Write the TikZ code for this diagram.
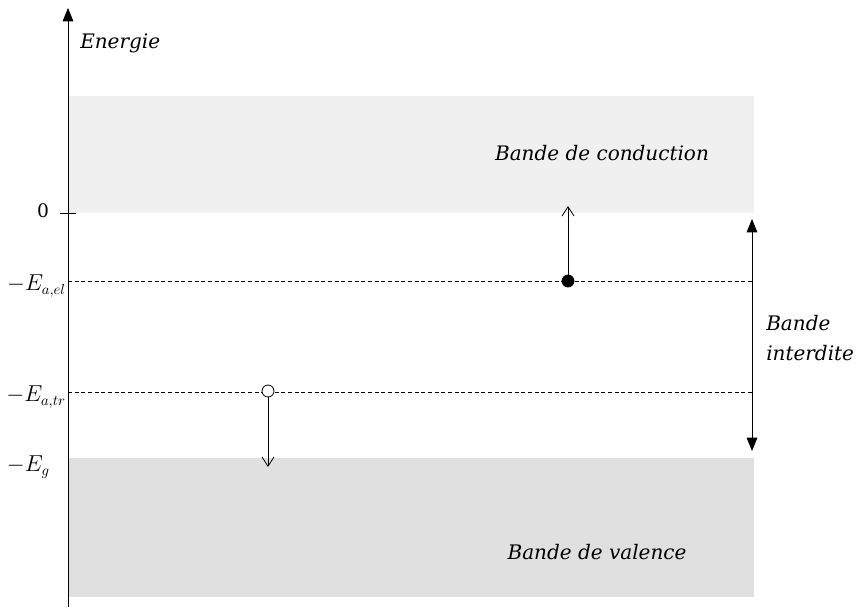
\documentclass[tikz,border=0pt]{standalone}
\usepackage{fontspec}
\setmainfont{DejaVu Serif}
\usetikzlibrary{arrows.meta}
\begin{document}
\begin{tikzpicture}[x=0.75pt,y=-0.75pt,
  lbl/.style={font=\itshape\fontsize{15}{22.5}\selectfont, inner sep=0pt},
  axislbl/.style={font=\fontsize{16}{18}\selectfont, inner sep=0pt},
  levelline/.style={densely dashed, line width=0.5pt},
  band/.style={draw=none},
  dot/.style={circle, draw, line width=0.6pt, minimum size=9pt, inner sep=0pt}]
\useasboundingbox (0,0) rectangle (860,610);
% bands
\fill[band, fill=black!6] (69,96) rectangle (754,213);
\fill[band, fill=black!12] (69,458) rectangle (754,597);
% axis
\coordinate (axb) at (68,607);
\coordinate (axt) at (68,8);
\draw[line width=0.6pt, -{Triangle[length=10pt,width=8pt]}] (axb) -- (axt);
\node[lbl, anchor=west] (energie) at (80,43) {Energie};
% zero tick
\coordinate (t0a) at (60,213);
\coordinate (t0b) at (76,213);
\draw[line width=0.6pt] (t0a) -- (t0b);
\node[axislbl, font=\fontsize{14}{16}\selectfont] (zero) at (43,211) {0};
% levels
\coordinate (el0) at (68,281);
\coordinate (el1) at (752,281);
\coordinate (tr0) at (68,392);
\coordinate (tr1) at (752,392);
\draw[levelline] (el0) -- (el1);
\draw[levelline] (tr0) -- (tr1);
\node[axislbl, anchor=east] (lel) at (66,286) {$-E_{a,el}$};
\node[axislbl, anchor=east] (ltr) at (66,397) {$-E_{a,tr}$};
\node[axislbl, anchor=east] (lg) at (50,467) {$-E_{g}$};
% electron
\node[dot, fill=black] (elec) at (568,281) {};
\coordinate (elup) at (568,206);
\draw[line width=0.6pt, -{Straight Barb[length=7pt,width=9pt]}] (elec) -- (elup);
% hole
\node[dot, fill=white] (hole) at (268,391) {};
\coordinate (hdown) at (268,467);
\draw[line width=0.6pt, -{Straight Barb[length=7pt,width=9pt]}] (hole) -- (hdown);
% gap arrow
\coordinate (gt) at (752,219);
\coordinate (gb) at (752,451);
\draw[line width=0.6pt, {Triangle[length=10pt,width=8pt]}-{Triangle[length=10pt,width=8pt]}] (gb) -- (gt);
\node[lbl, anchor=west, align=left] (interdite) at (766,338) {Bande\\interdite};
% band labels
\node[lbl] (cond) at (602,153) {Bande de conduction};
\node[lbl] (val) at (597,552) {Bande de valence};
\end{tikzpicture}
\end{document}
